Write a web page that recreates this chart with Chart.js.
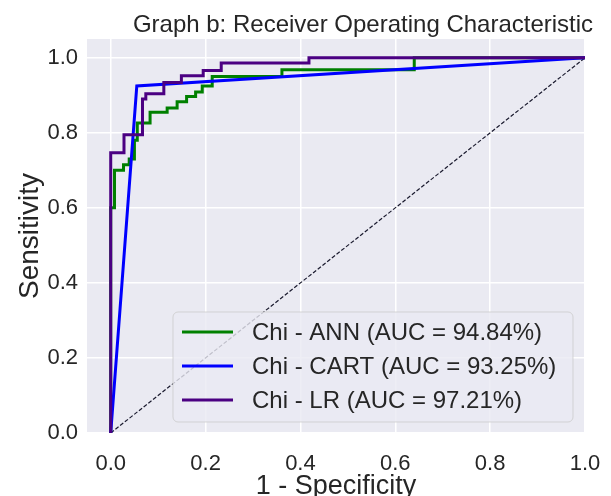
<!DOCTYPE html>
<html>
<head>
<meta charset="utf-8">
<script src="https://cdn.jsdelivr.net/npm/chart.js@4.4.0/dist/chart.umd.min.js"></script>
<style>
  html, body { margin: 0; padding: 0; background: #fff; }
</style>
</head>
<body>
<canvas id="roc" width="611" height="496"></canvas>
<script>
// ROC corner points (false positive rate / true positive rate)
const annFpr = [0, 0, 0.008, 0.008, 0.027, 0.027, 0.039, 0.039, 0.05, 0.05, 0.056, 0.056, 0.083, 0.083, 0.119, 0.119, 0.14, 0.14, 0.16, 0.16, 0.179, 0.179, 0.193, 0.193, 0.214, 0.214, 0.361, 0.361, 0.64, 0.64, 1];
const annTpr = [0, 0.6, 0.6, 0.70, 0.70, 0.715, 0.715, 0.73, 0.73, 0.78, 0.78, 0.826, 0.826, 0.855, 0.855, 0.866, 0.866, 0.883, 0.883, 0.897, 0.897, 0.909, 0.909, 0.925, 0.925, 0.95, 0.95, 0.968, 0.968, 1, 1];

const cartFpr = [0, 0.055, 1];
const cartTpr = [0, 0.925, 1];

const lrFpr = [0, 0, 0.028, 0.028, 0.067, 0.067, 0.074, 0.074, 0.112, 0.112, 0.149, 0.149, 0.195, 0.195, 0.233, 0.233, 0.418, 0.418, 1];
const lrTpr = [0, 0.747, 0.747, 0.795, 0.795, 0.89, 0.89, 0.904, 0.904, 0.934, 0.934, 0.952, 0.952, 0.966, 0.966, 0.986, 0.986, 1, 1];

const chanceLine = [0, 1];

const seriesLabels = ['Chi - ANN (AUC = 94.84%)', 'Chi - CART (AUC = 93.25%)', 'Chi - LR (AUC = 97.21%)'];

const FONT = '"Liberation Sans", Arial, sans-serif';
const TEXT = '#262626';

const toPoints = (xs, ys) => xs.map((x, i) => ({ x: x, y: ys[i] }));

// fond gris du cadre (style seaborn)
const plotBg = {
  id: 'plotBg',
  beforeDraw(chart) {
    const { ctx, chartArea: a } = chart;
    ctx.save();
    ctx.fillStyle = '#EAEAF2';
    ctx.fillRect(a.left, a.top, a.right - a.left, a.bottom - a.top);
    ctx.restore();
  }
};

const titleText = {
  id: 'titleText',
  afterDraw(chart) {
    const { ctx } = chart;
    ctx.save();
    ctx.fillStyle = TEXT;
    ctx.font = '24px ' + FONT;
    ctx.textAlign = 'center';
    ctx.textBaseline = 'alphabetic';
    ctx.fillText('Graph b: Receiver Operating Characteristic', 363, 32);
    ctx.restore();
  }
};

// legende dans le coin bas-droit
const boxLegend = {
  id: 'boxLegend',
  afterDatasetsDraw(chart) {
    const { ctx, chartArea: a } = chart;
    const items = chart.data.datasets.filter(d => d.inLegend);
    const rowH = 34, w = 400, h = 110;
    const right = a.right - 12, bottom = a.bottom - 11;
    const left = right - w, top = bottom - h;
    ctx.save();
    ctx.beginPath();
    ctx.roundRect(left, top, w, h, 5);
    ctx.fillStyle = 'rgba(234,234,242,0.8)';
    ctx.fill();
    ctx.strokeStyle = 'rgba(204,204,204,0.8)';
    ctx.lineWidth = 1;
    ctx.stroke();
    ctx.font = '24px ' + FONT;
    ctx.textBaseline = 'middle';
    ctx.fillStyle = TEXT;
    items.forEach((d, i) => {
      const y = top + 20 + i * rowH;
      ctx.beginPath();
      ctx.moveTo(left + 9, y);
      ctx.lineTo(left + 60, y);
      ctx.strokeStyle = d.borderColor;
      ctx.lineWidth = 3;
      ctx.stroke();
      ctx.fillText(d.label, left + 79, y + 1);
    });
    ctx.restore();
  }
};

const axisCommon = {
  type: 'linear',
  border: { display: false },
  grid: { color: '#ffffff', lineWidth: 1.5, drawTicks: false },
  ticks: {
    stepSize: 0.2,
    includeBounds: false,
    color: TEXT,
    font: { family: FONT, size: 22 },
    callback: v => v.toFixed(1)
  }
};

new Chart(document.getElementById('roc'), {
  type: 'scatter',
  data: {
    datasets: [
      { label: seriesLabels[0], data: toPoints(annFpr, annTpr), borderColor: '#008000', order: 3, inLegend: true },
      { label: seriesLabels[1], data: toPoints(cartFpr, cartTpr), borderColor: '#0000FF', order: 2, inLegend: true },
      { label: seriesLabels[2], data: toPoints(lrFpr, lrTpr), borderColor: '#4B0082', order: 1, inLegend: true },
      { label: 'chance', data: toPoints(chanceLine, chanceLine), borderColor: '#1a1a2e', borderWidth: 1.2, borderDash: [4, 2], order: 4, inLegend: false }
    ].map(d => Object.assign({ showLine: true, pointRadius: 0, borderWidth: 3, tension: 0, fill: false }, d))
  },
  options: {
    responsive: false,
    animation: false,
    devicePixelRatio: 1,
    layout: { padding: { top: 39, right: 26, left: 0, bottom: 0 } },
    plugins: {
      legend: { display: false },
      tooltip: { enabled: false }
    },
    scales: {
      x: Object.assign({}, axisCommon, {
        min: -0.05, max: 1.0,
        ticks: Object.assign({}, axisCommon.ticks, { padding: 18 }),
        title: { display: true, text: '1 - Specificity', color: TEXT, font: { family: FONT, size: 27, lineHeight: 0.7 }, padding: { top: 0, bottom: 0 } },
        afterFit: s => { s.height = 63; s.paddingLeft = 0; s.paddingRight = 0; }
      }),
      y: Object.assign({}, axisCommon, {
        min: 0, max: 1.05,
        ticks: Object.assign({}, axisCommon.ticks, { padding: 9 }),
        title: { display: true, text: 'Sensitivity', color: TEXT, font: { family: FONT, size: 28, lineHeight: 1 }, padding: { top: 16, bottom: 0 } },
        afterFit: s => { s.width = 87; }
      })
    }
  },
  plugins: [plotBg, boxLegend, titleText]
});
</script>
</body>
</html>
